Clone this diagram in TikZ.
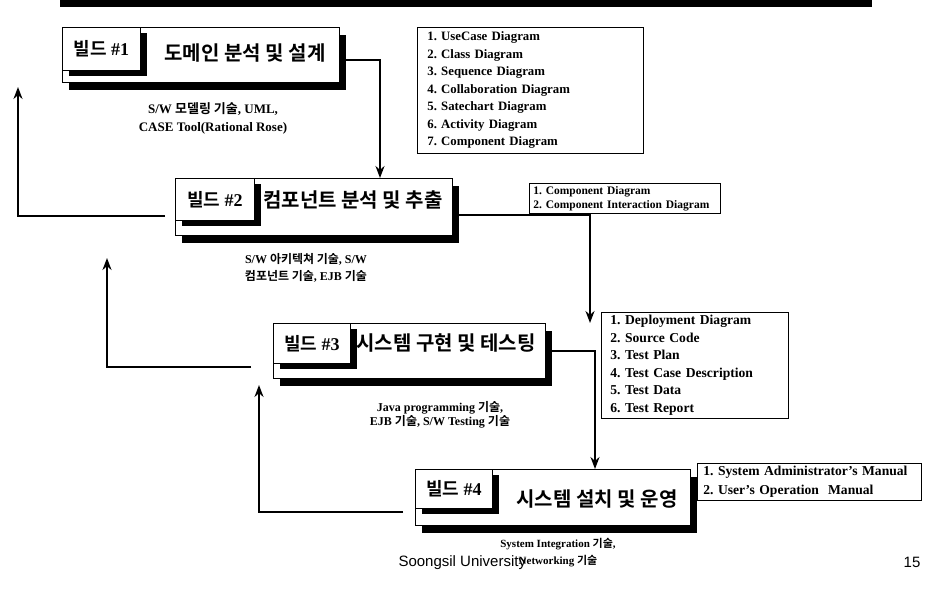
\documentclass[tikz,border=0pt]{standalone}
\usepackage{fontspec}
\setmainfont{Liberation Serif}
\newfontfamily\kr{Noto Sans CJK KR}[BoldFont={Noto Sans CJK KR Bold}]
\newfontfamily\uni{Liberation Sans}
\usetikzlibrary{shadows, arrows.meta, positioning}
\frenchspacing

\tikzset{
  buildbox/.style={draw, line width=0.8pt, fill=white, anchor=north west, inner sep=0pt,
    drop shadow={shadow xshift=7pt, shadow yshift=-8pt, fill=black, opacity=1}},
  labelbox/.style={draw, line width=0.8pt, fill=white, anchor=north west, inner sep=0pt,
    font=\bfseries\fontsize{18}{18}\selectfont,
    drop shadow={shadow xshift=7pt, shadow yshift=-6pt, fill=black, opacity=1}},
  buildtitle/.style={font=\kr\bfseries\fontsize{20}{20}\selectfont},
  listbox/.style={draw, line width=0.7pt, fill=white, anchor=north west, align=left,
    inner ysep=0pt, font=\bfseries\fontsize{12.8}{17.5}\selectfont},
  note/.style={align=center, font=\bfseries\fontsize{13}{18}\selectfont},
  flow/.style={line width=2pt, -{Stealth[length=12pt,width=9pt]}}
}

\begin{document}
\begin{tikzpicture}[x=1pt, y=-1pt]
  \useasboundingbox (0,0) rectangle (933,591);
  \fill (60,0) rectangle (872,7);

  % build 1
  \node (b1) [buildbox, minimum width=277pt, minimum height=55pt] at (62,27) {};
  \node (l1) [labelbox, minimum width=78pt, minimum height=43pt] at (62,27) {{\kr 빌드} \#1};
  \node (t1) [buildtitle] at (245,53) {도메인 분석 및 설계};
  \node (n1) [note] at (213,118) {S/W {\kr 모델링 기술}, UML,\\CASE Tool(Rational Rose)};

  % build 2
  \node (b2) [buildbox, minimum width=277pt, minimum height=57pt] at (175,178) {};
  \node (l2) [labelbox, minimum width=79pt, minimum height=42pt] at (175,178) {{\kr 빌드} \#2};
  \node (t2) [buildtitle] at (353,200) {컴포넌트 분석 및 추출};
  \node (n2) [note, font=\bfseries\fontsize{12}{17}\selectfont] at (306,268) {S/W {\kr 아키텍쳐 기술}, S/W\\{\kr 컴포넌트 기술}, EJB {\kr 기술}};

  % build 3
  \node (b3) [buildbox, minimum width=272pt, minimum height=55pt] at (273,323) {};
  \node (l3) [labelbox, minimum width=77pt, minimum height=40pt] at (273,323) {{\kr 빌드} \#3};
  \node (t3) [buildtitle] at (446,343) {시스템 구현 및 테스팅};
  \node (n3) [note, font=\bfseries\fontsize{12}{14.5}\selectfont] at (440,415) {Java programming {\kr 기술},\\EJB {\kr 기술}, S/W Testing {\kr 기술}};

  % build 4
  \node (b4) [buildbox, minimum width=275pt, minimum height=56pt] at (415,469) {};
  \node (l4) [labelbox, minimum width=77pt, minimum height=39pt] at (415,469) {{\kr 빌드} \#4};
  \node (t4) [buildtitle] at (597,499) {시스템 설치 및 운영};
  \node (n4) [note, font=\bfseries\fontsize{11}{17}\selectfont] at (558,553) {System Integration {\kr 기술},\\Networking {\kr 기술}};

  % outputs
  \node (d1) [listbox, inner xsep=10pt, text width=206pt, minimum height=126pt] at (417,27)
    {1. UseCase Diagram\\2. Class Diagram\\3. Sequence Diagram\\4. Collaboration Diagram\\5. Satechart Diagram\\6. Activity Diagram\\7. Component Diagram};
  \node (d2) [listbox, inner xsep=4pt, text width=183pt, minimum height=30pt,
    font=\bfseries\fontsize{11.5}{14}\selectfont] at (529,183)
    {1. Component Diagram\\2. Component Interaction Diagram};
  \node (d3) [listbox, inner xsep=9pt, text width=169pt, minimum height=106pt,
    font=\bfseries\fontsize{13.6}{17.5}\selectfont] at (601,312)
    {1. Deployment Diagram\\2. Source Code\\3. Test Plan\\4. Test Case Description\\5. Test Data\\6. Test Report};
  \node (d4) [listbox, inner xsep=6pt, text width=212pt, minimum height=37pt,
    font=\bfseries\fontsize{13.6}{18.5}\selectfont] at (697,463)
    {1. System Administrator's Manual\\2. User's Operation~~Manual};

  % forward flow
  \draw[flow] ([yshift=-5pt]b1.east) -| ([xshift=205pt]b2.north west);
  \draw[flow] ([yshift=-8pt]b2.east) -| ([xshift=317pt]b3.north west);
  \draw[flow] (b3.east) -| ([xshift=180pt]b4.north west);

  % feedback
  \coordinate (u1) at (18,87);
  \coordinate (u2) at (107,258);
  \coordinate (u3) at (259,385);
  \draw[flow] ([xshift=-10pt,yshift=-9pt]b2.west) -| (u1);
  \draw[flow] ([xshift=-22pt,yshift=-16pt]b3.west) -| (u2);
  \draw[flow] ([xshift=-12pt,yshift=-15pt]b4.west) -| (u3);

  \node (foot) [anchor=west, font=\uni\fontsize{15}{15}\selectfont] at (395,563) {Soongsil University};
  \node (page) [font=\uni\fontsize{15}{15}\selectfont] at (912,562) {15};
\end{tikzpicture}
\end{document}
